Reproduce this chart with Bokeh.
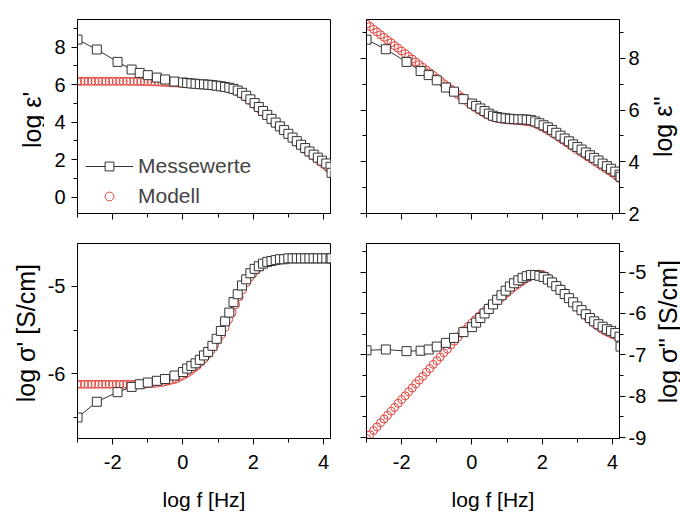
import math
from bokeh.plotting import figure
from bokeh.models import (Range1d, LinearAxis, SingleIntervalTicker, Legend,
                          LegendItem, PrintfTickFormatter, CustomJSTickFormatter)
from bokeh.core.properties import value
from bokeh.layouts import column, row
from bokeh.embed import file_html
from bokeh.resources import INLINE

# ---------------- data ----------------
x_meas = [-3.0, -2.45, -1.86, -1.46, -1.23, -1.0, -0.74, -0.51, -0.24,
          0.0, 0.12, 0.24, 0.36, 0.48, 0.60, 0.72, 0.84, 0.96, 1.08, 1.20, 1.32,
          1.44, 1.56, 1.68, 1.80, 1.92, 2.04, 2.16, 2.28, 2.40, 2.52, 2.64, 2.76,
          2.88, 3.00, 3.12, 3.24, 3.36, 3.48, 3.60, 3.72, 3.84, 3.96, 4.08, 4.20, 4.23]

eps1_meas = [8.41, 7.88, 7.22, 6.81, 6.63, 6.51, 6.38, 6.28, 6.17,
             6.12, 6.09, 6.07, 6.05, 6.03, 6.02, 6.00, 5.98, 5.95, 5.92, 5.88, 5.84,
             5.78, 5.69, 5.57, 5.41, 5.22, 5.02, 4.81, 4.60, 4.39, 4.18, 3.98, 3.78,
             3.58, 3.38, 3.18, 2.99, 2.80, 2.62, 2.44, 2.27, 2.11, 1.95, 1.80, 1.62, 1.30]

eps2_meas = [8.72, 8.35, 7.86, 7.51, 7.35, 7.15, 6.87, 6.71, 6.42,
             6.25, 6.16, 6.06, 5.96, 5.86, 5.78, 5.73, 5.70, 5.68, 5.66, 5.65, 5.64,
             5.64, 5.63, 5.61, 5.56, 5.49, 5.41, 5.33, 5.23, 5.12, 5.01, 4.90, 4.79,
             4.67, 4.57, 4.47, 4.36, 4.25, 4.15, 4.05, 3.93, 3.83, 3.73, 3.62, 3.50, 3.42]

sig1_meas = [-6.50, -6.32, -6.21, -6.15, -6.12, -6.10, -6.08, -6.06, -6.02,
             -5.98, -5.94, -5.91, -5.88, -5.84, -5.79, -5.75, -5.68, -5.60, -5.51, -5.40, -5.30,
             -5.18, -5.09, -4.99, -4.92, -4.85, -4.80, -4.77, -4.74, -4.72, -4.71, -4.70, -4.69,
             -4.69, -4.68, -4.68, -4.68, -4.68, -4.68, -4.68, -4.68, -4.68, -4.68, -4.68, -4.68, -4.68]

sig2_meas = [-6.89, -6.87, -6.91, -6.90, -6.87, -6.80, -6.71, -6.59, -6.45,
             -6.33, -6.22, -6.11, -6.00, -5.89, -5.78, -5.67, -5.56, -5.45, -5.35, -5.27, -5.20,
             -5.14, -5.10, -5.07, -5.07, -5.09, -5.12, -5.18, -5.25, -5.34, -5.43, -5.53, -5.63,
             -5.73, -5.83, -5.92, -6.02, -6.11, -6.19, -6.26, -6.32, -6.38, -6.42, -6.47, -6.56, -6.80]

x_model = [-3.0, -2.9, -2.8, -2.7, -2.6, -2.5, -2.4, -2.3, -2.2, -2.1,
           -2.0, -1.9, -1.8, -1.7, -1.6, -1.5, -1.4, -1.3, -1.2, -1.1,
           -1.0, -0.9, -0.8, -0.7, -0.6, -0.5, -0.4, -0.3, -0.2, -0.1,
           0.0, 0.1, 0.2, 0.3, 0.4, 0.5, 0.6, 0.7, 0.8, 0.9,
           1.0, 1.1, 1.2, 1.3, 1.4, 1.5, 1.6, 1.7, 1.8, 1.9,
           2.0, 2.1, 2.2, 2.3, 2.4, 2.5, 2.6, 2.7, 2.8, 2.9,
           3.0, 3.1, 3.2, 3.3, 3.4, 3.5, 3.6, 3.7, 3.8, 3.9,
           4.0, 4.1, 4.2]

eps1_model = [6.18, 6.18, 6.18, 6.18, 6.18, 6.18, 6.18, 6.18, 6.18, 6.18,
              6.18, 6.18, 6.18, 6.18, 6.18, 6.18, 6.18, 6.17, 6.17, 6.16,
              6.16, 6.15, 6.15, 6.14, 6.13, 6.12, 6.11, 6.10, 6.09, 6.08,
              6.07, 6.06, 6.04, 6.03, 6.01, 6.00, 5.98, 5.96, 5.94, 5.92,
              5.89, 5.86, 5.83, 5.79, 5.76, 5.68, 5.58, 5.46, 5.32, 5.17,
              5.01, 4.85, 4.69, 4.52, 4.36, 4.19, 4.02, 3.86, 3.69, 3.52,
              3.35, 3.18, 3.01, 2.85, 2.69, 2.53, 2.37, 2.21, 2.06, 1.91,
              1.76, 1.61, 1.47]

eps2_model = [9.33, 9.23, 9.12, 9.02, 8.91, 8.81, 8.70, 8.60, 8.49, 8.39,
              8.28, 8.18, 8.07, 7.97, 7.86, 7.76, 7.65, 7.55, 7.44, 7.34,
              7.23, 7.13, 7.02, 6.92, 6.81, 6.71, 6.60, 6.50, 6.40, 6.29,
              6.19, 6.09, 6.00, 5.92, 5.85, 5.78, 5.72, 5.68, 5.65, 5.63,
              5.62, 5.61, 5.60, 5.59, 5.58, 5.56, 5.54, 5.52, 5.47, 5.41,
              5.34, 5.27, 5.18, 5.10, 5.01, 4.92, 4.83, 4.74, 4.64, 4.55,
              4.46, 4.37, 4.28, 4.19, 4.10, 4.01, 3.92, 3.83, 3.74, 3.65,
              3.56, 3.46, 3.35]

sig1_model = [-6.12, -6.12, -6.12, -6.12, -6.12, -6.12, -6.12, -6.12, -6.12, -6.12,
              -6.12, -6.12, -6.12, -6.12, -6.12, -6.12, -6.12, -6.12, -6.12, -6.12,
              -6.11, -6.11, -6.11, -6.10, -6.10, -6.09, -6.08, -6.07, -6.06, -6.04,
              -6.02, -6.00, -5.97, -5.94, -5.91, -5.87, -5.83, -5.78, -5.73, -5.67,
              -5.61, -5.55, -5.47, -5.38, -5.30, -5.21, -5.12, -5.04, -4.96, -4.90,
              -4.85, -4.81, -4.78, -4.75, -4.73, -4.72, -4.71, -4.70, -4.69, -4.68,
              -4.68, -4.68, -4.68, -4.68, -4.68, -4.68, -4.68, -4.68, -4.68, -4.68,
              -4.68, -4.68, -4.68]

sig2_model = [-9.02, -8.93, -8.83, -8.74, -8.64, -8.55, -8.46, -8.36, -8.27, -8.17,
              -8.08, -7.99, -7.89, -7.80, -7.70, -7.61, -7.52, -7.42, -7.33, -7.23,
              -7.14, -7.05, -6.95, -6.86, -6.76, -6.67, -6.58, -6.48, -6.39, -6.31,
              -6.23, -6.15, -6.07, -5.99, -5.92, -5.85, -5.78, -5.71, -5.64, -5.57,
              -5.50, -5.43, -5.36, -5.30, -5.24, -5.18, -5.13, -5.09, -5.06, -5.05,
              -5.06, -5.10, -5.16, -5.23, -5.31, -5.39, -5.48, -5.57, -5.66, -5.75,
              -5.84, -5.93, -6.02, -6.10, -6.18, -6.25, -6.32, -6.38, -6.43, -6.47,
              -6.51, -6.54, -6.57]

x_label = "log f [Hz]"
y_labels = ["log ε'", "log ε''", "log σ' [S/cm]", "log σ'' [S/cm]"]
legend_labels = ["Messewerte", "Modell"]

# ---------------- style ----------------
FONT = "Liberation Sans"
RED = "#e2423b"
DARK = "#333333"


def style_axis(ax, labels=True):
    ax.axis_line_color = "black"
    ax.axis_line_width = 1
    ax.major_tick_line_color = "black"
    ax.minor_tick_line_color = "black"
    ax.major_tick_in = 0
    ax.major_tick_out = 6
    ax.minor_tick_in = 0
    ax.minor_tick_out = 4
    ax.major_label_text_font = FONT
    ax.major_label_text_color = "black"
    if labels:
        ax.formatter = PrintfTickFormatter(format="%d")
        ax.major_label_text_font_size = "20px"
    else:
        ax.formatter = CustomJSTickFormatter(code="return ''")
        ax.major_label_text_font_size = "1px"
        ax.major_label_standoff = 0
    ax.axis_label_text_font = FONT
    ax.axis_label_text_font_style = "normal"
    ax.axis_label_text_color = "black"
    ax.axis_label_text_font_size = "21px"


def label_strip(w, h, text, cx, cy):
    # narrow figure holding a bottom-to-top axis title (coordinates = pixels)
    f = figure(width=w, height=h, x_range=Range1d(0, w), y_range=Range1d(h, 0),
               output_backend="svg", toolbar_location=None,
               x_axis_location=None, y_axis_location=None,
               min_border=0, min_border_left=0, min_border_right=0,
               min_border_top=0, min_border_bottom=0)
    f.outline_line_color = None
    f.xgrid.visible = False
    f.ygrid.visible = False
    f.background_fill_color = "white"
    f.border_fill_color = "white"
    f.text(x=[cx], y=[cy], text=[text], angle=math.pi / 2,
           text_font=value(FONT), text_font_size=value("25px"), text_color="black",
           text_align="center", text_baseline="middle")
    return f


def panel(w, h, borders, yr, yint, yside, xlabels, ymeas, ymodel):
    left, right, top, bottom = borders
    p = figure(width=w, height=h, x_range=Range1d(-3.0, 4.2),
               y_range=Range1d(*yr), output_backend="svg", toolbar_location=None,
               y_axis_location=yside,
               min_border_left=left, min_border_right=right,
               min_border_top=top, min_border_bottom=bottom)
    p.xgrid.visible = False
    p.ygrid.visible = False
    p.outline_line_color = "black"
    p.outline_line_width = 1
    p.background_fill_color = "white"
    p.border_fill_color = "white"

    p.xaxis.ticker = SingleIntervalTicker(interval=2, num_minor_ticks=2)
    p.yaxis.ticker = SingleIntervalTicker(interval=yint, num_minor_ticks=2)
    for ax in p.xaxis:
        style_axis(ax, labels=xlabels)
        if xlabels:
            ax.axis_label = x_label
            ax.major_label_standoff = 10
            ax.axis_label_standoff = 16
    for ax in p.yaxis:
        style_axis(ax, labels=True)
        ax.major_label_standoff = 6 if yside == "left" else 3

    if yside == "right":
        extra = LinearAxis(ticker=SingleIntervalTicker(interval=yint, num_minor_ticks=2))
        style_axis(extra, labels=False)
        p.add_layout(extra, "left")

    cr = p.scatter(x_model, ymodel, marker="circle", size=8, line_color=RED,
                   fill_color=None, line_width=1)
    lr = p.line(x_meas, ymeas, line_color=DARK, line_width=1)
    sr = p.scatter(x_meas, ymeas, marker="square", size=9, line_color=DARK,
                   fill_color="white", line_width=1)
    return p, cr, lr, sr


# top row: strip(44) + p1(296) + p2(310) + strip(30) = 680 ; height 230
p1, c1, l1, s1 = panel(296, 230, (33, 10, 19, 17), (-0.87, 9.48), 2, "left", False,
                       eps1_meas, eps1_model)
p2, _, _, _ = panel(310, 230, (26, 31, 19, 17), (2.0, 9.5), 2, "right", False,
                    eps2_meas, eps2_model)
# bottom row: height 283
p3, _, _, _ = panel(296, 283, (33, 10, 13, 74), (-6.74, -4.51), 1, "left", True,
                    sig1_meas, sig1_model)
p4, _, _, _ = panel(310, 283, (26, 31, 13, 74), (-9.02, -4.31), 1, "right", True,
                    sig2_meas, sig2_model)

lab1 = label_strip(44, 230, y_labels[0], 31, 119)
lab2 = label_strip(30, 230, y_labels[1], 12, 127)
lab3 = label_strip(44, 283, y_labels[2], 25, 130)
lab4 = label_strip(30, 283, y_labels[3], 17, 128)

legend = Legend(items=[LegendItem(label=legend_labels[0], renderers=[l1, s1]),
                       LegendItem(label=legend_labels[1], renderers=[c1])],
                location=(8, 5), border_line_color=None, background_fill_alpha=0,
                label_text_font=FONT, label_text_font_size="21px",
                glyph_width=48, glyph_height=22, label_height=24, spacing=6,
                padding=0, margin=0, label_standoff=5)
p1.add_layout(legend)

layout = column(row(lab1, p1, p2, lab2), row(lab3, p3, p4, lab4))
open("out.html", "w").write(file_html(layout, INLINE))
